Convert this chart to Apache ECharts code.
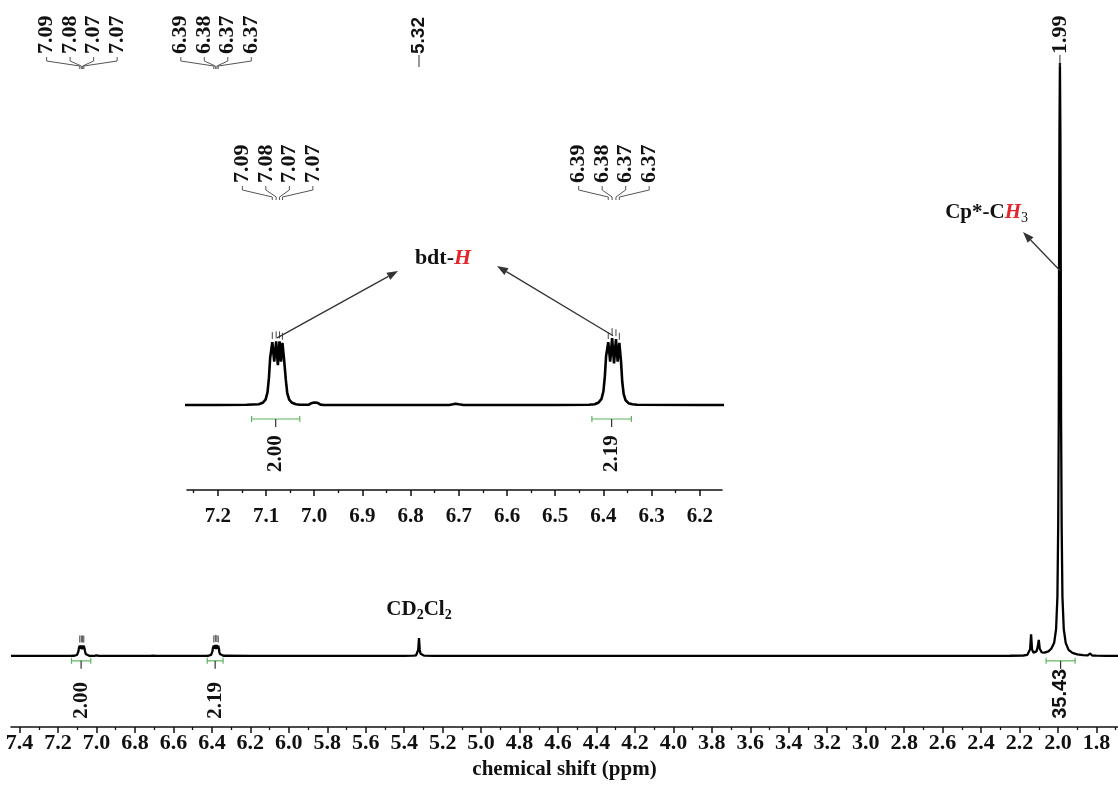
<!DOCTYPE html>
<html>
<head>
<meta charset="utf-8">
<script src="https://cdn.jsdelivr.net/npm/echarts@6.0.0/dist/echarts.min.js"></script>
<style>
html,body{margin:0;padding:0;background:#fff;}
#c{width:1118px;height:785px;}
</style>
</head>
<body>
<div id="c"></div>
<script>
// ---------------- DATA ----------------
// main axis tick labels (ppm) and minor ticks
const tickLabels = [7.4,7.2,7.0,6.8,6.6,6.4,6.2,6.0,5.8,5.6,5.4,5.2,5.0,4.8,4.6,4.4,4.2,4.0,3.8,3.6,3.4,3.2,3.0,2.8,2.6,2.4,2.2,2.0,1.8];
const minorTicks = [7.3,7.1,6.9,6.7,6.5,6.3,6.1,5.9,5.7,5.5,5.3,5.1,4.9,4.7,4.5,4.3,4.1,3.9,3.7,3.5,3.3,3.1,2.9,2.7,2.5,2.3,2.1,1.9,1.7];
// inset axis tick labels and minor ticks
const insetTickLabels = [7.2,7.1,7.0,6.9,6.8,6.7,6.6,6.5,6.4,6.3,6.2];
const insetMinorTicks = [7.25,7.15,7.05,6.95,6.85,6.75,6.65,6.55,6.45,6.35,6.25];

// spectrum: [chemical shift (ppm), intensity (Cp* peak = 100)]
const spectrum = [
  [7.4446,0],[7.30,0],[7.20,0],[7.14,0.005],[7.115,0.02],[7.107,0.06],[7.101,0.15],[7.097,0.35],
  [7.094,0.75],[7.0915,1.3],[7.087,1.74],[7.083,1.2],[7.079,1.76],[7.0755,1.1],[7.072,1.76],
  [7.069,1.2],[7.066,1.72],[7.0625,1.25],[7.059,0.7],[7.056,0.33],[7.052,0.15],[7.046,0.06],
  [7.038,0.02],[7.03,0.005],[7.012,0.005],[7.006,0.05],[7.0,0.07],[6.993,0.06],[6.987,0.01],
  [6.98,0],[6.85,0],[6.72,0],[6.712,0.02],[6.707,0.035],[6.70,0.02],[6.69,0],[6.5,0],
  [6.43,0.005],[6.418,0.02],[6.41,0.07],[6.404,0.17],[6.400,0.38],[6.397,0.8],[6.3945,1.35],
  [6.390,1.74],[6.386,1.2],[6.382,1.85],[6.378,1.15],[6.374,1.82],[6.3705,1.2],[6.367,1.72],
  [6.3635,1.2],[6.361,0.65],[6.358,0.3],[6.354,0.13],[6.348,0.05],[6.34,0.02],[6.33,0.005],
  [6.2,0],[6.0,0],[5.5,0],[5.40,0],[5.35,0.03],[5.338,0.1],[5.331,0.35],[5.327,1.0],[5.323,3.0],
  [5.319,1.0],[5.315,0.35],[5.308,0.1],[5.295,0.03],[5.25,0],[4.0,0],[2.5,0],[2.25,0.02],
  [2.18,0.06],[2.16,0.15],[2.150,0.4],[2.145,1.1],[2.140,3.65],[2.135,1.1],[2.128,0.55],
  [2.12,0.45],[2.112,0.75],[2.105,1.6],[2.100,2.7],[2.095,1.2],[2.085,0.6],[2.07,0.55],
  [2.05,0.75],[2.035,1.2],[2.02,2.2],[2.01,4.5],[2.003,10],[1.999,22],[1.996,40],[1.9945,65],
  [1.9925,88],[1.990,100],[1.9875,88],[1.9855,65],[1.984,40],[1.981,22],[1.977,10],[1.970,4.5],
  [1.960,2.2],[1.945,1.0],[1.925,0.5],[1.90,0.25],
  [1.87,0.12],[1.845,0.08],[1.838,0.2],[1.834,0.4],[1.830,0.2],[1.822,0.06],[1.80,0.03],
  [1.75,0],[1.688,0]
];

// picked peaks (ppm)
const peaksA = [7.087, 7.079, 7.072, 7.066];
const peaksB = [6.390, 6.382, 6.374, 6.367];
const peakSolvent = [5.323];
const peakCp = [1.990];

// integrals: [from ppm, to ppm, value]
const integrals = [[7.130, 7.030, 2.00], [6.424, 6.342, 2.19], [2.062, 1.911, 35.43]];

// ---------------- LAYOUT / STYLE ----------------
const SERIF = '"Liberation Serif","Times New Roman",serif';
const SANS = '"Liberation Sans",Arial,sans-serif';
const MAIN_X = [1.688, 7.4446];
const INSET_X = [6.154, 7.264];

const mainGroups = [peaksA, peaksB, peakSolvent, peakCp];
const mainGroupFonts = ['bold 22px ' + SERIF, 'bold 22px ' + SERIF, 'bold 19px ' + SANS, 'bold 22px ' + SERIF];
const insetGroups = [peaksA, peaksB];
const insetIntegrals = integrals.filter(d => d[0] <= INSET_X[1] && d[1] >= INSET_X[0]);

function spectrumAt(ppm) {
  for (let i = 0; i < spectrum.length - 1; i++) {
    const [x1, y1] = spectrum[i], [x2, y2] = spectrum[i + 1];
    if (ppm <= x1 && ppm >= x2) {
      const t = (x1 - ppm) / ((x1 - x2) || 1);
      return y1 + (y2 - y1) * t;
    }
  }
  return 0;
}

function peakLabelRenderer(groups, cfg) {
  return function (params, api) {
    const g = groups[params.dataIndex];
    const n = g.length;
    const xs = g.map(p => api.coord([p, 0])[0]);
    const cx = xs.reduce((a, b) => a + b, 0) / n;
    const font = cfg.fonts ? cfg.fonts[params.dataIndex] : cfg.font;
    const children = [];
    for (let i = 0; i < n; i++) {
      const lx = n === 1 ? xs[i] : cx + (i - (n - 1) / 2) * cfg.spacing;
      children.push({
        type: 'text', x: lx, y: cfg.textBottom, rotation: Math.PI / 2,
        style: { text: g[i].toFixed(2), font: font, fill: '#111', align: 'left', verticalAlign: 'middle' }
      });
      if (n === 1) {
        children.push({ type: 'line', shape: { x1: lx, y1: cfg.textBottom + 1, x2: lx, y2: cfg.singleEnd },
          style: { stroke: '#333', lineWidth: 1 } });
      } else {
        children.push({ type: 'polyline',
          shape: { points: [[lx, cfg.textBottom + 3], [lx, cfg.textBottom + 7], [xs[i], cfg.convY], [xs[i], cfg.convY + 3]] },
          style: { stroke: '#555', lineWidth: 1, fill: null } });
      }
      const top = api.coord([g[i], spectrumAt(g[i])])[1];
      if (n > 1 || cfg.markSingles) {
        children.push({ type: 'line', shape: { x1: xs[i], y1: top - 3, x2: xs[i], y2: top - 10 },
          style: { stroke: '#444', lineWidth: 1 } });
      }
    }
    return { type: 'group', children: children };
  };
}

function integralRenderer(list, cfg) {
  return function (params, api) {
    const d = list[params.dataIndex];
    const pa = api.coord([d[0], 0]), pb = api.coord([d[1], 0]);
    const y = pa[1] + cfg.gap;
    const cx = (pa[0] + pb[0]) / 2;
    const st = { stroke: '#5fb35f', lineWidth: 1.2 };
    const font = d[2] >= 10 ? 'bold 20px ' + SANS : 'bold 21px ' + SERIF;
    return { type: 'group', children: [
      { type: 'line', shape: { x1: pa[0], y1: y, x2: pb[0], y2: y }, style: st },
      { type: 'line', shape: { x1: pa[0], y1: y - 3, x2: pa[0], y2: y + 3 }, style: st },
      { type: 'line', shape: { x1: pb[0], y1: y - 3, x2: pb[0], y2: y + 3 }, style: st },
      { type: 'line', shape: { x1: cx, y1: y, x2: cx, y2: pa[1] + cfg.tick }, style: { stroke: '#333', lineWidth: 1.2 } },
      { type: 'text', x: cx, y: pa[1] + cfg.labelStart, rotation: Math.PI / 2,
        style: { text: d[2].toFixed(2), font: font, fill: '#111', align: 'left', verticalAlign: 'middle' } }
    ]};
  };
}

function xAxisMajor(grid, range, ticks, fontSize, margin, name) {
  const ax = {
    type: 'value', gridIndex: grid, min: range[0], max: range[1], inverse: true, position: 'bottom',
    axisLine: { show: true, onZero: false, lineStyle: { color: '#111', width: 1.6 } },
    axisTick: { show: true, customValues: ticks, length: 6, lineStyle: { color: '#111', width: 1.5 } },
    axisLabel: { show: true, customValues: ticks, formatter: v => v.toFixed(1), margin: margin,
      fontFamily: SERIF, fontWeight: 'bold', fontSize: fontSize, color: '#111' },
    splitLine: { show: false }
  };
  if (name) {
    ax.name = name; ax.nameLocation = 'middle'; ax.nameGap = 32;
    ax.nameTextStyle = { fontFamily: SERIF, fontWeight: 'bold', fontSize: 21, color: '#111' };
  }
  return ax;
}
function xAxisMinor(grid, range, ticks) {
  return {
    type: 'value', gridIndex: grid, min: range[0], max: range[1], inverse: true, position: 'bottom',
    axisLine: { show: false, onZero: false },
    axisTick: { show: true, customValues: ticks, length: 3, lineStyle: { color: '#111', width: 1.3 } },
    axisLabel: { show: false }, splitLine: { show: false }
  };
}

const option = {
  animation: false,
  backgroundColor: '#fff',
  grid: [
    { left: 11, right: 0, top: 63, bottom: 57 },
    { left: 187, right: 396, top: 334.5, bottom: 295 }
  ],
  xAxis: [
    xAxisMajor(0, MAIN_X, tickLabels, 22, 5, 'chemical shift (ppm)'),
    xAxisMinor(0, MAIN_X, minorTicks),
    xAxisMajor(1, INSET_X, insetTickLabels, 21, 16),
    xAxisMinor(1, INSET_X, insetMinorTicks)
  ],
  yAxis: [
    { type: 'value', gridIndex: 0, min: -12, max: 100, show: false },
    { type: 'value', gridIndex: 1, min: -2.352, max: 1.95, show: false }
  ],
  series: [
    { type: 'line', xAxisIndex: 0, yAxisIndex: 0, data: spectrum, symbol: 'none', silent: true,
      lineStyle: { color: '#000', width: 2.3 }, clip: false, z: 3 },
    { type: 'line', xAxisIndex: 2, yAxisIndex: 1, data: spectrum, symbol: 'none', silent: true,
      lineStyle: { color: '#000', width: 2.6 }, clip: true, z: 3 },
    { type: 'custom', coordinateSystem: 'cartesian2d', xAxisIndex: 0, yAxisIndex: 0, silent: true, z: 5,
      data: mainGroups.map(g => [g[0], 0]),
      renderItem: peakLabelRenderer(mainGroups, { spacing: 23.5, textBottom: 54, convY: 66, singleEnd: 67,
        fonts: mainGroupFonts, markSingles: false }) },
    { type: 'custom', coordinateSystem: 'cartesian2d', xAxisIndex: 2, yAxisIndex: 1, silent: true, z: 5,
      data: insetGroups.map(g => [g[0], 0]),
      renderItem: peakLabelRenderer(insetGroups, { spacing: 23.5, textBottom: 183, convY: 197, singleEnd: 197,
        font: 'bold 22px ' + SERIF }) },
    { type: 'custom', coordinateSystem: 'cartesian2d', xAxisIndex: 0, yAxisIndex: 0, silent: true, z: 5,
      data: integrals.map(d => [d[0], 0]),
      renderItem: integralRenderer(integrals, { gap: 5, tick: 13, labelStart: 63 }) },
    { type: 'custom', coordinateSystem: 'cartesian2d', xAxisIndex: 2, yAxisIndex: 1, silent: true, z: 5,
      data: insetIntegrals.map(d => [d[0], 0]),
      renderItem: integralRenderer(insetIntegrals, { gap: 14, tick: 22, labelStart: 67 }) }
  ]
};

const chart = echarts.init(document.getElementById('c'), null, { renderer: 'canvas' });
chart.setOption(option);

// ---------------- annotations ----------------
const toMain = pt => chart.convertToPixel({ seriesIndex: 0 }, pt);
const toInset = pt => chart.convertToPixel({ seriesIndex: 1 }, pt);

function arrow(from, to, color) {
  const dx = to[0] - from[0], dy = to[1] - from[1], L = Math.hypot(dx, dy);
  const ux = dx / L, uy = dy / L, hl = 11, hw = 4;
  const bx = to[0] - ux * hl, by = to[1] - uy * hl;
  return [
    { type: 'line', silent: true, z: 10, shape: { x1: from[0], y1: from[1], x2: bx, y2: by }, style: { stroke: color, lineWidth: 1.3 } },
    { type: 'polygon', silent: true, z: 10, shape: { points: [[to[0], to[1]], [bx - uy * hw, by + ux * hw], [bx + uy * hw, by - ux * hw]] }, style: { fill: color } }
  ];
}

const RED = '#e3262b';
const elems = [];
// CD2Cl2 solvent label
const cd = toMain([peakSolvent[0], spectrumAt(peakSolvent[0])]);
elems.push({ type: 'text', silent: true, z: 10, x: cd[0], y: cd[1] - 28,
  style: { text: '{a|CD}{s|2}{a|Cl}{s|2}', align: 'center', verticalAlign: 'middle',
    rich: { a: { fontFamily: SERIF, fontWeight: 'bold', fontSize: 21, fill: '#111', lineHeight: 24 },
            s: { fontFamily: SERIF, fontWeight: 'bold', fontSize: 14, fill: '#111', lineHeight: 14, verticalAlign: 'bottom' } } } });
// bdt-H label
const bdt = [443, 258];
elems.push({ type: 'text', silent: true, z: 10, x: bdt[0], y: bdt[1],
  style: { text: '{b|bdt-}{h|H}', align: 'center', verticalAlign: 'middle',
    rich: { b: { fontFamily: SERIF, fontWeight: 'bold', fontSize: 22, fill: '#111' },
            h: { fontFamily: SERIF, fontWeight: 'bold', fontStyle: 'italic', fontSize: 22, fill: RED } } } });
const pA = toInset([7.077, 1.8]);
const pB = toInset([6.380, 1.86]);
elems.push(...arrow([pA[0], pA[1] - 2], [bdt[0] - 45, bdt[1] + 13], '#333'));
elems.push(...arrow([pB[0], pB[1] - 2], [bdt[0] + 54, bdt[1] + 8], '#333'));
// Cp*-CH3 label
const cpText = [1028, 213];
elems.push({ type: 'text', silent: true, z: 10, x: cpText[0], y: cpText[1],
  style: { text: '{a|Cp*-C}{h|H}{s|3}', align: 'right', verticalAlign: 'middle',
    rich: { a: { fontFamily: SERIF, fontWeight: 'bold', fontSize: 21, fill: '#111', lineHeight: 24 },
            h: { fontFamily: SERIF, fontWeight: 'bold', fontStyle: 'italic', fontSize: 21, fill: RED, lineHeight: 24 },
            s: { fontFamily: SERIF, fontSize: 14, fill: '#111', lineHeight: 14, verticalAlign: 'bottom' } } } });
const cpPeak = toMain([peakCp[0], 65]);
elems.push(...arrow([cpPeak[0], cpPeak[1]], [cpText[0] - 5, cpText[1] + 19], '#333'));

chart.setOption({ graphic: { elements: elems } });
</script>
</body>
</html>
